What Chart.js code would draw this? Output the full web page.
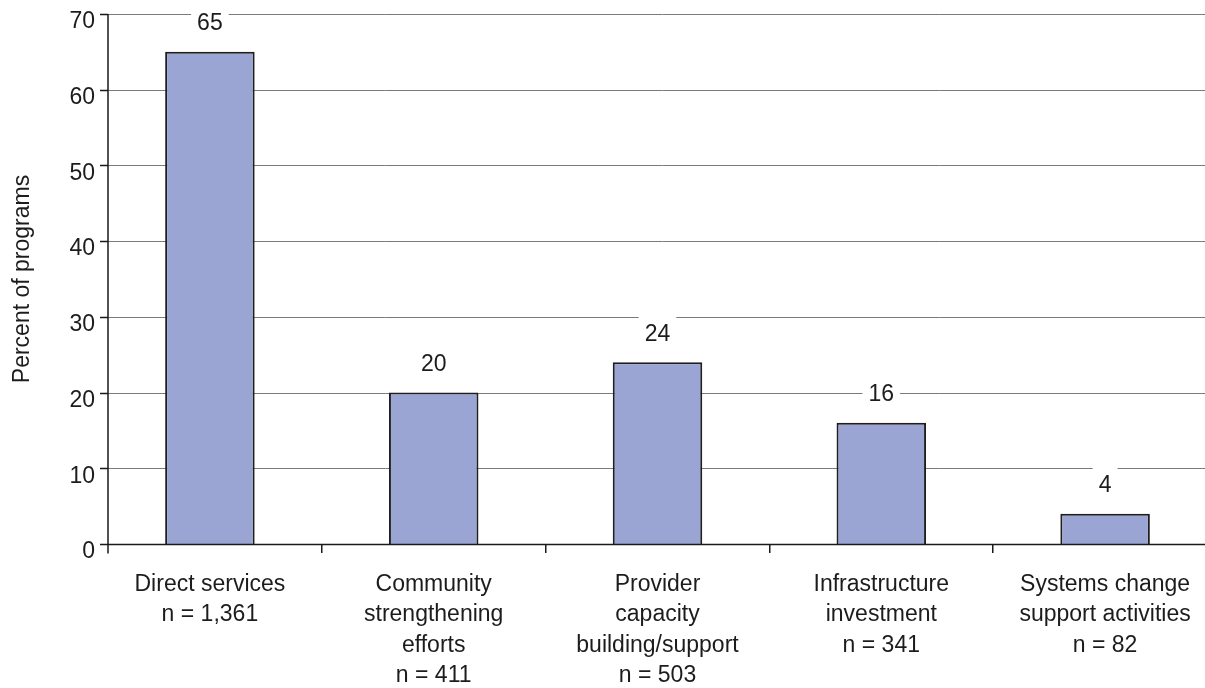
<!DOCTYPE html>
<html>
<head>
<meta charset="utf-8">
<title>Percent of programs by activity type</title>
<script src="https://cdn.jsdelivr.net/npm/chart.js@4.4.1/dist/chart.umd.min.js"></script>
<style>
  html, body { margin: 0; padding: 0; background: #fff; overflow: hidden; }
  canvas { display: block; }
</style>
</head>
<body>
<canvas id="programChart" width="1217" height="688"></canvas>
<script>
const categories = [
  ['Direct services', 'n = 1,361'],
  ['Community', 'strengthening', 'efforts', 'n = 411'],
  ['Provider', 'capacity', 'building/support', 'n = 503'],
  ['Infrastructure', 'investment', 'n = 341'],
  ['Systems change', 'support activities', 'n = 82']
];
const percentValues = [65, 20, 24, 16, 4];
const yTicks = [0, 10, 20, 30, 40, 50, 60, 70];

const FONT = '"Liberation Sans", Arial, Helvetica, sans-serif';
const TEXT = '#1c1c1c';
const FONT_SIZE = 23;
const axisX = 108; // y axis line sits a bit right of the first category edge

Chart.defaults.font.family = FONT;
Chart.defaults.color = TEXT;

// gridlines, axis lines and the boxed value labels
const axisLines = {
  id: 'axisLines',
  beforeDatasetsDraw(chart) {
    const { ctx, chartArea, scales: { y } } = chart;
    ctx.save();
    ctx.strokeStyle = '#7a7a7a';
    ctx.lineWidth = 1;
    yTicks.forEach(v => {
      if (v === 0) return;
      const py = Math.round(y.getPixelForValue(v)) + 0.5;
      ctx.beginPath();
      ctx.moveTo(axisX, py);
      ctx.lineTo(chartArea.right, py);
      ctx.stroke();
    });
    ctx.restore();
  },
  afterDatasetsDraw(chart) {
    const { ctx, chartArea, scales: { y } } = chart;
    const y0 = Math.round(y.getPixelForValue(0)) + 0.5;
    ctx.save();
    ctx.strokeStyle = '#1a1a1a';
    ctx.lineWidth = 1.5;
    ctx.beginPath();
    ctx.moveTo(axisX, Math.round(chartArea.top));
    ctx.lineTo(axisX, y0 + 9);
    ctx.moveTo(axisX, y0);
    ctx.lineTo(chartArea.right, y0);
    yTicks.forEach(v => {
      const py = Math.round(y.getPixelForValue(v)) + 0.5;
      ctx.moveTo(axisX - 8, py);
      ctx.lineTo(axisX, py);
    });
    ctx.stroke();

    ctx.font = FONT_SIZE + 'px ' + FONT;
    ctx.textAlign = 'center';
    ctx.textBaseline = 'middle';
    chart.getDatasetMeta(0).data.forEach((bar, i) => {
      const text = String(percentValues[i]);
      const w = ctx.measureText(text).width;
      const cy = bar.y - 28;
      ctx.fillStyle = '#fff';
      ctx.fillRect(bar.x - w / 2 - 6, cy - 19, w + 12, 31);
      ctx.fillStyle = TEXT;
      ctx.fillText(text, bar.x, cy);
    });
    ctx.restore();
  }
};

new Chart(document.getElementById('programChart'), {
  type: 'bar',
  data: {
    labels: categories,
    datasets: [{
      data: percentValues,
      backgroundColor: '#9aa5d3',
      borderColor: '#1e1e1e',
      borderWidth: 2,
      barPercentage: 0.4,
      categoryPercentage: 1
    }]
  },
  options: {
    responsive: false,
    animation: false,
    layout: { padding: { top: 14, right: 0, bottom: 0, left: 0 } },
    plugins: {
      legend: { display: false },
      tooltip: { enabled: false }
    },
    scales: {
      x: {
        border: { display: false },
        grid: {
          offset: true,
          drawOnChartArea: false,
          tickLength: 9,
          lineWidth: 1.5,
          color: ctx => ctx.index === 0 ? 'rgba(0,0,0,0)' : '#1a1a1a'
        },
        ticks: {
          font: { size: FONT_SIZE, lineHeight: 1.33 },
          color: TEXT,
          padding: 16,
          maxRotation: 0,
          autoSkip: false
        },
        afterFit: scale => { scale.height = 144; }
      },
      y: {
        min: 0,
        max: 70,
        border: { display: false },
        grid: { display: false, drawTicks: false },
        ticks: {
          stepSize: 10,
          font: { size: FONT_SIZE },
          color: TEXT,
          padding: 3,
          labelOffset: 8
        },
        title: {
          display: true,
          text: 'Percent of programs',
          font: { size: FONT_SIZE },
          color: TEXT,
          padding: { top: 9, bottom: 0 }
        },
        afterFit: scale => {
          scale.width = 98;
          scale.paddingTop = 0;
          scale.paddingBottom = 0;
        }
      }
    }
  },
  plugins: [axisLines]
});
</script>
</body>
</html>
